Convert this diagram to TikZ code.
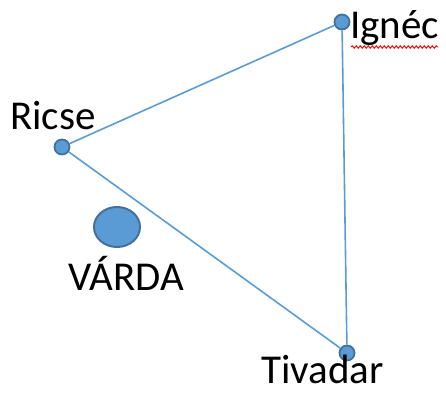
\documentclass[tikz,border=0pt]{standalone}
\usepackage{fontspec}
\setmainfont{Carlito}
\usetikzlibrary{decorations.pathmorphing,shapes.geometric}
\definecolor{lineblue}{HTML}{5B9BD5}
\definecolor{dotedge}{HTML}{41719C}
\begin{document}
\begin{tikzpicture}[x=1pt,y=1pt,
  town/.style={circle,draw=dotedge,line width=1.8pt,fill=lineblue,inner sep=0pt,minimum size=15pt},
  link/.style={draw=lineblue,line width=1.6pt},
  place/.style={font=\fontsize{41}{47}\selectfont,inner sep=0pt,anchor=base west}]
\useasboundingbox (0,0) rectangle (446,392);
% towns
\node[town] (ignec) at (342,370) {};
\node[town] (ricse) at (62,245) {};
\node[town] (tivadar) at (347,39) {};
% connections between the towns
\draw[link] (ricse) -- (ignec);
\draw[link] (ignec) -- (tivadar);
\draw[link] (ricse) -- (tivadar);
% Várda
\node[ellipse,draw=dotedge,line width=2pt,fill=lineblue,minimum width=46pt,minimum height=40pt,inner sep=0pt] (varda) at (117,165) {};
% labels
\node[place] (lignec) at (350,354) {Ignéc};
\node[place] (lricse) at (10,263) {Ricse};
\node[place] (lvarda) at (68,102) {VÁRDA};
\node[place] (ltivadar) at (261,9) {Tivadar};
% wavy underline below Ignéc
\draw[red,line width=0.9pt,decorate,decoration={snake,amplitude=1.3pt,segment length=4pt}]
  ([xshift=1pt,yshift=-9pt]lignec.base west) -- ([xshift=-1pt,yshift=-9pt]lignec.base east);
\end{tikzpicture}
\end{document}
